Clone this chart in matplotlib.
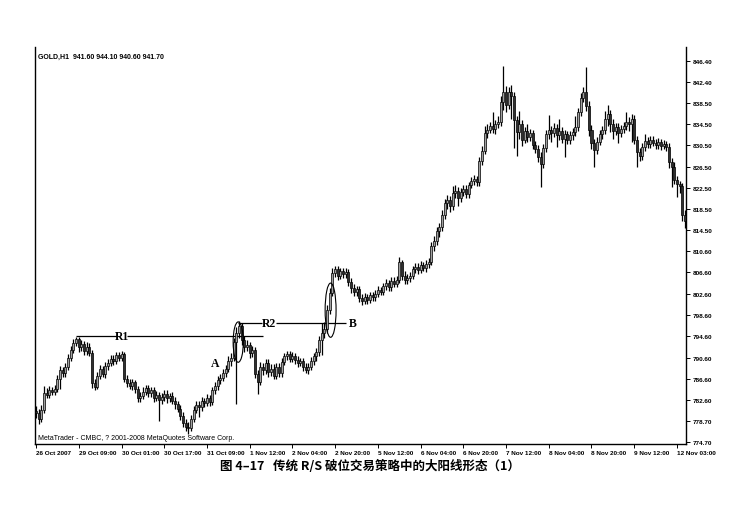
import matplotlib
matplotlib.use('Agg')
import matplotlib.pyplot as plt
from matplotlib.patches import Ellipse

# 收盘价 (GOLD H1, 每组10根K线)
closes = [780.2, 779.0, 780.8, 784.0, 783.6, 784.5, 784.1, 784.7, 786.5, 788.2,
          787.6, 788.8, 790.5, 792.0, 793.4, 794.0, 792.5, 793.1, 791.8, 792.6,
          791.5, 785.8, 785.0, 787.2, 788.4, 787.5, 789.0, 789.6, 790.4, 790.0,
          791.0, 790.6, 791.2, 786.5, 785.8, 785.3, 785.9, 784.6, 783.0, 783.4,
          784.2, 784.8, 783.9, 784.4, 783.0, 783.5, 782.6, 783.2, 783.8, 782.9,
          783.4, 782.5, 781.8, 781.0, 779.6, 778.2, 777.6, 777.3, 779.0, 780.8,
          781.7, 781.2, 782.4, 782.0, 783.0, 782.2, 784.4, 785.2, 786.4, 786.8,
          787.6, 788.5, 790.0, 790.6, 793.5, 795.2, 796.5, 793.8, 792.5, 793.0,
          791.4, 792.0, 787.5, 786.0, 788.9, 788.2, 789.6, 787.8, 788.5, 787.2,
          788.8, 787.6, 789.8, 790.8, 791.2, 790.4, 790.9, 790.1, 789.6, 789.9,
          788.8, 788.2, 788.9, 790.0, 790.8, 791.6, 793.8, 795.2, 796.0, 799.5,
          802.8, 806.5, 807.2, 806.0, 806.8, 806.3, 806.7, 804.8, 803.6, 802.9,
          803.4, 801.8, 801.2, 802.0, 801.4, 802.3, 801.9, 802.6, 803.3, 803.0,
          804.0, 804.6, 803.9, 805.0, 804.5, 805.2, 808.5, 806.0, 805.2, 805.6,
          806.0, 807.2, 807.6, 807.1, 808.0, 807.5, 808.2, 808.6, 811.5, 812.6,
          814.4, 815.2, 817.5, 819.6, 820.3, 819.2, 821.5, 822.0, 820.6, 821.8,
          822.3, 821.4, 823.0, 823.8, 824.2, 823.6, 827.6, 829.5, 832.8, 833.5,
          834.2, 833.6, 834.5, 835.0, 838.6, 840.5, 838.2, 840.6, 839.8, 835.2,
          833.0, 834.5, 831.6, 833.2, 832.0, 832.8, 830.6, 829.8, 828.4, 827.0,
          830.0, 832.6, 833.4, 832.8, 833.8, 832.5, 833.2, 831.8, 832.6, 831.5,
          832.4, 833.0, 834.0, 836.8, 839.5, 840.6, 838.0, 833.5, 831.0, 829.6,
          831.2, 832.6, 833.4, 835.5, 836.4, 834.6, 833.2, 834.0, 832.8, 833.6,
          834.2, 835.0, 834.6, 835.4, 831.5, 829.2, 828.6, 830.2, 831.4, 830.8,
          831.6, 831.0, 830.6, 831.2, 830.4, 830.8, 830.2, 827.4, 826.5, 824.0,
          823.2, 822.8, 817.5, 816.2]

# 开盘价
opens = [780.6, 780.2, 779.0, 780.8, 784.0, 783.6, 784.5, 784.1, 784.7, 786.5,
         788.2, 787.6, 788.8, 790.5, 792.0, 793.4, 794.0, 792.5, 793.1, 791.8,
         792.6, 791.5, 785.8, 785.0, 787.2, 788.4, 787.5, 789.0, 789.6, 790.4,
         790.0, 791.0, 790.6, 791.2, 786.5, 785.8, 785.3, 785.9, 784.6, 783.0,
         783.4, 784.2, 784.8, 783.9, 784.4, 783.0, 783.5, 782.6, 783.2, 783.8,
         782.9, 783.4, 782.5, 781.8, 781.0, 779.6, 778.2, 777.6, 777.3, 779.0,
         780.8, 781.7, 781.2, 782.4, 782.0, 783.0, 782.2, 784.4, 785.2, 786.4,
         786.8, 787.6, 788.5, 790.0, 790.6, 793.5, 795.2, 796.5, 793.8, 792.5,
         793.0, 791.4, 792.0, 787.5, 786.0, 788.9, 788.2, 789.6, 787.8, 788.5,
         787.2, 788.8, 787.6, 789.8, 790.8, 791.2, 790.4, 790.9, 790.1, 789.6,
         789.9, 788.8, 788.2, 788.9, 790.0, 790.8, 791.6, 793.8, 795.2, 796.0,
         799.5, 802.8, 806.5, 807.2, 806.0, 806.8, 806.3, 806.7, 804.8, 803.6,
         802.9, 803.4, 801.8, 801.2, 802.0, 801.4, 802.3, 801.9, 802.6, 803.3,
         803.0, 804.0, 804.6, 803.9, 805.0, 804.5, 805.2, 808.5, 806.0, 805.2,
         805.6, 806.0, 807.2, 807.6, 807.1, 808.0, 807.5, 808.2, 808.6, 811.5,
         812.6, 814.4, 815.2, 817.5, 819.6, 820.3, 819.2, 821.5, 822.0, 820.6,
         821.8, 822.3, 821.4, 823.0, 823.8, 824.2, 823.6, 827.6, 829.5, 832.8,
         833.5, 834.2, 833.6, 834.5, 835.0, 838.6, 840.5, 838.2, 840.6, 839.8,
         835.2, 833.0, 834.5, 831.6, 833.2, 832.0, 832.8, 830.6, 829.8, 828.4,
         827.0, 830.0, 832.6, 833.4, 832.8, 833.8, 832.5, 833.2, 831.8, 832.6,
         831.5, 832.4, 833.0, 834.0, 836.8, 839.5, 840.6, 838.0, 833.5, 831.0,
         829.6, 831.2, 832.6, 833.4, 835.5, 836.4, 834.6, 833.2, 834.0, 832.8,
         833.6, 834.2, 835.0, 834.6, 835.4, 831.5, 829.2, 828.6, 830.2, 831.4,
         830.8, 831.6, 831.0, 830.6, 831.2, 830.4, 830.8, 830.2, 827.4, 826.5,
         824.0, 823.2, 822.8, 817.5]

# 最高价
highs = [781.4, 781.0, 781.6, 785.2, 784.8, 785.3, 785.0, 785.4, 787.4, 789.0,
         788.9, 789.5, 791.2, 792.8, 794.0, 794.5, 794.4, 793.8, 793.7, 793.5,
         793.3, 792.0, 786.6, 787.9, 789.1, 789.0, 789.7, 790.3, 791.0, 791.1,
         791.6, 791.7, 791.8, 791.6, 787.3, 786.5, 786.6, 786.4, 785.2, 784.2,
         785.0, 785.4, 785.5, 785.1, 785.0, 784.3, 784.1, 784.0, 784.5, 784.4,
         784.0, 784.1, 783.2, 782.4, 781.7, 780.3, 779.0, 778.4, 779.8, 781.5,
         782.4, 782.5, 783.2, 783.0, 783.8, 783.6, 785.1, 786.0, 787.1, 787.5,
         788.4, 789.2, 790.8, 791.5, 794.3, 796.4, 797.4, 797.0, 794.6, 793.9,
         793.6, 792.8, 792.6, 788.3, 789.8, 789.6, 790.4, 790.3, 789.3, 789.4,
         789.6, 789.5, 790.5, 791.5, 791.9, 791.8, 791.6, 791.5, 790.8, 790.6,
         790.5, 789.5, 789.6, 790.7, 791.5, 792.3, 794.6, 797.0, 797.2, 800.4,
         803.6, 807.4, 807.9, 807.8, 807.5, 807.4, 807.5, 807.3, 805.5, 804.4,
         804.1, 804.0, 802.5, 802.7, 802.6, 803.0, 802.9, 803.3, 804.0, 803.9,
         804.7, 805.4, 805.2, 805.8, 805.7, 805.9, 809.6, 809.0, 806.8, 806.3,
         806.7, 807.9, 808.3, 808.3, 808.7, 808.6, 808.9, 809.3, 812.3, 813.5,
         815.2, 816.0, 818.3, 820.5, 821.2, 821.0, 822.8, 823.0, 822.7, 822.5,
         823.0, 823.1, 823.7, 824.6, 825.0, 824.8, 828.4, 830.4, 834.2, 834.5,
         835.0, 836.8, 835.3, 836.0, 839.8, 845.5, 841.6, 841.5, 841.8, 840.6,
         836.0, 837.0, 835.2, 834.0, 834.5, 833.6, 833.5, 831.4, 830.6, 829.2,
         830.8, 833.5, 836.2, 834.1, 834.8, 834.5, 835.5, 834.0, 833.5, 833.3,
         833.2, 833.8, 836.0, 837.6, 840.4, 841.5, 845.3, 838.8, 834.4, 831.8,
         832.0, 833.4, 834.2, 837.0, 838.2, 837.2, 835.4, 834.8, 834.7, 834.4,
         835.0, 836.8, 835.8, 836.4, 836.2, 832.3, 830.0, 831.0, 832.6, 832.1,
         832.3, 832.2, 831.7, 831.9, 831.8, 831.5, 831.4, 830.9, 828.2, 827.3,
         824.8, 823.9, 823.4, 818.3]

# 最低价
lows = [779.3, 778.0, 778.4, 780.2, 782.9, 783.0, 783.5, 783.6, 784.2, 784.7,
        787.0, 786.9, 788.2, 789.9, 791.4, 792.8, 791.6, 791.9, 791.0, 791.1,
        790.8, 784.9, 784.5, 784.6, 786.5, 786.9, 786.8, 788.3, 789.0, 789.2,
        789.4, 789.9, 789.9, 785.9, 785.0, 784.6, 784.5, 783.9, 782.2, 782.3,
        782.8, 783.5, 783.1, 783.2, 782.3, 782.4, 778.6, 781.9, 782.5, 782.1,
        782.2, 781.8, 781.0, 780.3, 778.8, 777.5, 776.8, 776.2, 776.7, 778.4,
        780.2, 779.4, 780.6, 781.3, 781.4, 781.5, 781.6, 783.7, 784.5, 785.7,
        786.1, 786.9, 787.8, 789.0, 789.9, 781.9, 794.3, 792.9, 791.6, 791.8,
        790.6, 790.7, 786.8, 783.7, 785.4, 787.4, 787.5, 787.0, 787.1, 786.5,
        786.6, 786.9, 787.0, 789.1, 790.1, 789.7, 789.8, 789.4, 788.9, 789.0,
        788.1, 787.6, 787.5, 788.2, 789.2, 790.0, 790.9, 791.0, 794.2, 795.3,
        798.8, 802.1, 805.7, 805.2, 805.3, 805.6, 805.5, 804.0, 802.8, 802.1,
        802.2, 801.0, 800.5, 800.6, 800.7, 800.8, 801.2, 801.2, 801.9, 802.3,
        802.3, 803.3, 803.1, 803.2, 803.8, 803.9, 804.6, 805.2, 804.4, 804.5,
        804.9, 805.4, 806.5, 806.4, 806.5, 806.8, 806.6, 807.5, 808.0, 810.6,
        811.8, 813.2, 814.4, 816.6, 818.6, 818.0, 818.4, 820.6, 819.2, 819.8,
        821.0, 820.6, 820.7, 822.4, 823.0, 822.8, 822.9, 826.8, 828.8, 831.9,
        832.8, 832.9, 832.6, 833.8, 834.2, 837.2, 836.8, 837.3, 835.5, 830.0,
        828.5, 831.8, 830.4, 830.9, 831.2, 831.3, 829.8, 829.0, 827.3, 822.7,
        826.2, 829.3, 831.8, 831.2, 832.0, 830.2, 831.6, 830.9, 828.3, 830.7,
        830.8, 831.6, 832.3, 833.3, 836.0, 838.6, 836.9, 832.2, 829.8, 826.4,
        828.8, 830.5, 831.8, 832.6, 834.2, 833.0, 831.8, 832.4, 831.0, 832.0,
        832.9, 833.5, 833.2, 831.2, 830.7, 826.5, 827.6, 827.8, 829.5, 830.0,
        830.1, 830.4, 829.9, 829.9, 829.7, 829.8, 829.5, 826.2, 822.6, 823.2,
        820.8, 821.6, 816.3, 815.0]

# 坐标轴刻度
ytick_values = [846.40, 842.40, 838.50, 834.50, 830.50, 826.50, 822.50, 818.50,
                814.50, 810.60, 806.60, 802.60, 798.60, 794.60, 790.60, 786.60,
                782.60, 778.70, 774.70]
xtick_bars = [0, 16, 32, 48, 64, 80, 96, 112, 128, 144, 160, 176, 192, 208, 224, 240]
xtick_labels = ['26 Oct 2007', '29 Oct 09:00', '30 Oct 01:00', '30 Oct 17:00',
                '31 Oct 09:00', '1 Nov 12:00', '2 Nov 04:00', '2 Nov 20:00',
                '5 Nov 12:00', '6 Nov 04:00', '6 Nov 20:00', '7 Nov 12:00',
                '8 Nov 04:00', '8 Nov 20:00', '9 Nov 12:00', '12 Nov 03:00']

# 阻力线 R1 / R2
r1_level = 794.6
r1_span = (15, 85)
r2_level = 797.1
r2_span = (75.5, 116)

fig = plt.figure(figsize=(7.32, 5.06), dpi=100)
ax = fig.add_axes([0.0478, 0.1206, 0.8894, 0.7846])

n = len(closes)
for i in range(n):
    o, h, l, c = opens[i], highs[i], lows[i], closes[i]
    ax.vlines(i, l, h, color='black', linewidth=0.9, zorder=2)
    lo = min(o, c)
    hgt = max(abs(c - o), 0.12)
    fc = '#a0a0a0' if c >= o else '#303030'
    ax.bar(i, hgt, bottom=lo, width=0.75, color=fc, edgecolor='black',
           linewidth=0.5, zorder=3)

# R1 线
ax.hlines(r1_level, r1_span[0], 30.5, color='black', linewidth=0.9)
ax.hlines(r1_level, 34.0, r1_span[1], color='black', linewidth=0.9)
ax.text(32.2, r1_level, 'R1', family='Liberation Serif', fontsize=8.5,
        fontweight='bold', ha='center', va='center')
# R2 线
ax.hlines(r2_level, r2_span[0], 84.5, color='black', linewidth=0.9)
ax.hlines(r2_level, 89.8, r2_span[1], color='black', linewidth=0.9)
ax.text(87.2, r2_level, 'R2', family='Liberation Serif', fontsize=8.5,
        fontweight='bold', ha='center', va='center')
ax.text(118.6, r2_level, 'B', family='Liberation Serif', fontsize=8.5,
        fontweight='bold', ha='center', va='center')
ax.text(67.2, 789.6, 'A', family='Liberation Serif', fontsize=8.5,
        fontweight='bold', ha='center', va='center')

# 大阳线的椭圆标记
ax.add_patch(Ellipse((75.7, 793.5), 3.8, 7.6, fill=False, edgecolor='black',
                     linewidth=0.8, zorder=4))
ax.add_patch(Ellipse((110.3, 799.5), 4.1, 10.2, fill=False, edgecolor='black',
                     linewidth=0.8, zorder=4))

ax.set_xlim(-0.4, 243.4)
ax.set_ylim(774.33, 849.03)

ax.yaxis.tick_right()
ax.set_yticks(ytick_values)
ax.set_yticklabels(['%.2f' % v for v in ytick_values], family='Liberation Sans',
                   fontweight='bold')
ax.set_xticks(xtick_bars)
ax.set_xticklabels(xtick_labels, ha='left', family='Liberation Sans',
                   fontweight='bold')
ax.tick_params(axis='both', direction='out', length=3, width=0.7,
               labelsize=4.6, pad=1.5)
ax.spines['top'].set_visible(False)
for s in ['left', 'right', 'bottom']:
    ax.spines[s].set_linewidth(1.0)

ax.text(0.004, 0.985, 'GOLD,H1  941.60 944.10 940.60 941.70', transform=ax.transAxes,
        family='Liberation Sans', fontsize=5, fontweight='bold', ha='left', va='top')
ax.text(0.004, 0.008, 'MetaTrader - CMBC, ? 2001-2008 MetaQuotes Software Corp.',
        transform=ax.transAxes, family='Liberation Sans', fontsize=5,
        ha='left', va='bottom')

fig.text(0.505, 0.079, '图 4–17   传统 R/S 破位交易策略中的大阳线形态（1）',
         family=['Noto Sans CJK SC', 'DejaVu Sans'], fontsize=9,
         fontweight='bold', ha='center', va='center')

fig.savefig('out.png', dpi=100)
